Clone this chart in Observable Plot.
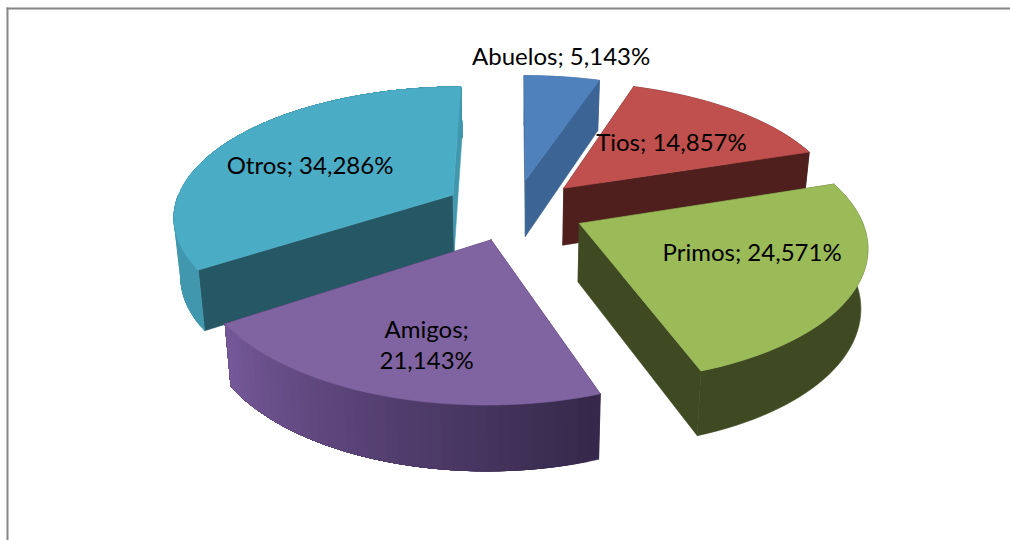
<!DOCTYPE html>
<html><head><meta charset="utf-8">
<script src="https://cdn.jsdelivr.net/npm/d3@7"></script>
<script src="https://cdn.jsdelivr.net/npm/@observablehq/plot@0.6"></script>
<style>html,body{margin:0;padding:0;background:#fff}svg{display:block}</style>
</head><body><div id="chart"></div>
<script>
const categories = ["Abuelos","Tios","Primos","Amigos","Otros"];
const percents = [5.143,14.857,24.571,21.143,34.286];
const labels = ["Abuelos; 5,143%","Tios; 14,857%","Primos; 24,571%","Amigos;\n21,143%","Otros; 34,286%"];
const topColors = ["#4F81BD","#C0504D","#9BBB59","#8064A2","#4BACC6"];
const wallFrom = ["#3C6494","#4F1F1E","#3F4A23","#35284A","#4198AE"];
const wallTo = ["#3C6494","#4F1F1E","#3F4A23","#76599A","#4699B0"];
const startFace = ["#3C6494","#4F1F1E","#3F4A23","#35284A","#255765"];
const endFace = ["#3C6494","#4F1F1E","#3F4A23","#35284A","#4198AE"];
const drawOrder = [4,0,1,3,2];
const labelAngle = [7.5,46.4,108.9,196,295.5];
const labelRadius = [1.25,0.594,0.617,0.695,0.609];

// 3D view of the pie
const cx=514, cy=209, A=279, B=129, px=0.15, py=0.155, H=58, depthSlope=0.11, shrink=0.98, explodeX=0.255, explodeY=0.24;
const rad=d=>d*Math.PI/180;
const project=(X,Y,z=0)=>{
  const sx=cx+A*X/(1+px*Y), sy=cy-B*Y/(1+py*Y);
  return z? [cx+(sx-cx)*shrink, sy+H*(1-depthSlope*Y)] : [sx,sy];
};
let acc=0;
const slices=percents.map((v,i)=>{
  const a0=acc; acc+=v*3.6; const a1=acc; const mid=(a0+a1)/2;
  return {i,a0,a1,mid,ox:explodeX*Math.sin(rad(mid)),oy:explodeY*Math.cos(rad(mid))};
});
const rim=(s,a,r=1)=>[s.ox+r*Math.sin(rad(a)),s.oy+r*Math.cos(rad(a))];
const rows=[]; let nid=0;
const poly=(pts,fill)=>{const id=nid++;[...pts,pts[0]].forEach(q=>rows.push({id,x:q[0],y:q[1],fill}));};
for(const k of drawOrder){
  const s=slices[k], n=Math.ceil((s.a1-s.a0)/2);
  const angs=d3.range(n+1).map(j=>s.a0+(s.a1-s.a0)*j/n);
  const wallColor=j=>d3.rgb(d3.interpolateRgb(wallFrom[k],wallTo[k])(j/n)).formatHex();
  // painter's sweep: each band runs to the far end of its run, so no seam lets white through
  const wall=list=>{
    if(list.length<2) return;
    const step=wallFrom[k]===wallTo[k]?list.length:1;
    for(let b=0;b<list.length-1;b+=step){
      const run=list.slice(b).map(j=>rim(s,angs[j]));
      poly([...run.map(q=>project(...q)),...run.slice().reverse().map(q=>project(q[0],q[1],1))],wallColor(list[b]));
    }
  };
  const all=d3.range(n+1);
  const isBack=j=>Math.cos(rad(angs[j]))>=0;
  // a segment straddling the side of the pie belongs to the front run
  const back=all.filter(isBack);
  const front=all.filter(j=>!isBack(j)||(j<n&&!isBack(j+1))||(j>0&&!isBack(j-1)));
  const [x0,y0]=rim(s,s.a0),[x1,y1]=rim(s,s.a1);
  wall(back);
  poly([project(s.ox,s.oy),project(x0,y0),project(x0,y0,1),project(s.ox,s.oy,1)],startFace[k]);
  poly([project(s.ox,s.oy),project(x1,y1),project(x1,y1,1),project(s.ox,s.oy,1)],endFace[k]);
  wall(front);
  poly([project(s.ox,s.oy),...angs.map(a=>project(...rim(s,a)))],topColors[k]);
}
const textRows=slices.map(s=>{
  const [X,Y]=rim(s,labelAngle[s.i],labelRadius[s.i]);
  const [x,y]=project(X,Y);
  return {x,y,label:labels[s.i]};
});
const chart=Plot.plot({
  width:1010,height:540,marginLeft:7,marginTop:8,marginRight:0,marginBottom:0,
  x:{domain:[7,1010],axis:null},
  y:{domain:[540,8],axis:null},
  marks:[
    Plot.frame({anchor:"left",stroke:"#868686",strokeWidth:2}),
    Plot.frame({anchor:"top",stroke:"#868686",strokeWidth:2}),
    Plot.line(rows,{x:"x",y:"y",z:"id",fill:"fill",stroke:"fill",strokeWidth:0.6}),
    Plot.text(textRows,{x:"x",y:"y",text:"label",fill:"#000",fontSize:24,lineHeight:1.3,fontFamily:"Lato"})
  ],
  style:{background:"#fff"}
});
document.getElementById("chart").append(chart);
</script></body></html>
